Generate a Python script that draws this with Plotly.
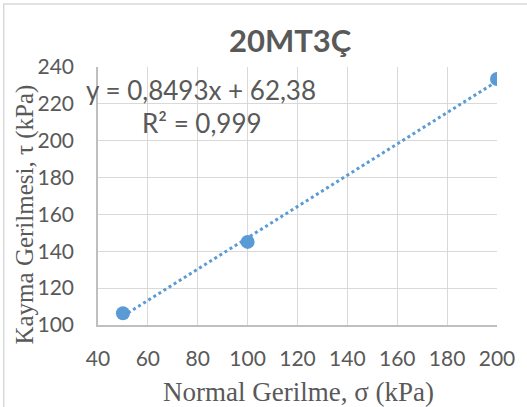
import numpy as np
import plotly.graph_objects as go

# Data
sigma = [50, 100, 200]            # Normal Gerilme, kPa
tau = [106.4, 145.1, 233.5]       # Kayma Gerilmesi, kPa
slope, intercept = 0.8493, 62.38
eq_text = "y = 0,8493x + 62,38"
r2_text = "R² = 0,999"
title_text = "20MT3Ç"
x_title = "Normal Gerilme, σ (kPa)"
y_title = "Kayma Gerilmesi, τ (kPa)"

blue = "#5b9bd5"
gray_txt = "#595959"
grid = "#d9d9d9"

xt = np.linspace(min(sigma), max(sigma), 60)
yt = slope * xt + intercept

fig = go.Figure()
fig.add_trace(go.Scatter(x=xt, y=yt, mode="lines",
                         line=dict(color=blue, width=3, dash="dot"),
                         hoverinfo="skip", showlegend=False))
fig.add_trace(go.Scatter(x=sigma, y=tau, mode="markers",
                         marker=dict(color=blue, size=14),
                         showlegend=False))

tickfont = dict(family="Lato, Open Sans, sans-serif", size=21, color=gray_txt)
fig.update_xaxes(range=[40, 200], dtick=20, tick0=40, showgrid=True, gridcolor=grid,
                 gridwidth=1.3, zeroline=False, showline=True, linecolor="#bfbfbf",
                 linewidth=1.5, tickfont=tickfont, ticks="",
                 ticklabelstandoff=14)
fig.update_yaxes(range=[100, 240], dtick=20, tick0=100, showgrid=True, gridcolor=grid,
                 gridwidth=1.3, zeroline=False, showline=True, linecolor="#bfbfbf",
                 linewidth=1.5, tickfont=tickfont, ticks="",
                 ticklabelstandoff=18)

W, H = 527, 407
l, r, t, b = 98, 27, 67, 82
pw, ph = W - l - r, H - t - b
def px(x): return (x - l) / pw
def py(y): return (H - b - y) / ph

anns = [
    dict(text="<b>" + title_text + "</b>", x=px(292), y=py(40), xref="paper", yref="paper",
         showarrow=False, xanchor="center", yanchor="middle",
         font=dict(family="Lato, Open Sans, sans-serif", size=31, color=gray_txt)),
    dict(text=eq_text, x=px(202), y=py(90), xref="paper", yref="paper",
         showarrow=False, xanchor="center", yanchor="middle",
         font=dict(family="Lato, Open Sans, sans-serif", size=26, color=gray_txt)),
    dict(text=r2_text, x=px(203), y=py(123), xref="paper", yref="paper",
         showarrow=False, xanchor="center", yanchor="middle",
         font=dict(family="Lato, Open Sans, sans-serif", size=26, color=gray_txt)),
    dict(text=x_title, x=px(300), y=py(392), xref="paper", yref="paper",
         showarrow=False, xanchor="center", yanchor="middle",
         font=dict(family="Liberation Serif, Times New Roman, serif", size=27, color=gray_txt)),
    dict(text=y_title, x=px(24), y=py(215), xref="paper", yref="paper",
         showarrow=False, xanchor="center", yanchor="middle", textangle=-90,
         font=dict(family="Liberation Serif, Times New Roman, serif", size=25, color=gray_txt)),
]

fig.update_layout(
    width=W, height=H,
    margin=dict(l=l, r=r, t=t, b=b),
    paper_bgcolor="white", plot_bgcolor="white",
    annotations=anns,
)

# outer chart frame
fig.add_shape(type="rect", xref="paper", yref="paper",
              x0=px(3), x1=px(540), y0=py(420), y1=py(4),
              line=dict(color="#d9d9d9", width=1.5), fillcolor="rgba(0,0,0,0)", layer="below")

fig.write_html("out.html")
